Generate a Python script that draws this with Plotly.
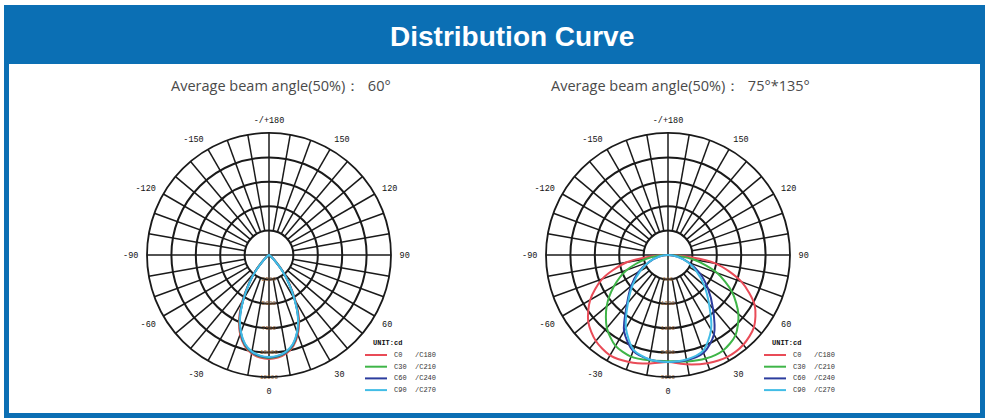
import plotly.graph_objects as go

# ---------------- data ----------------
angles = [0, 10, 20, 30, 40, 50, 60, 70, 80, 90]
angles_left_chart = [0, 5, 10, 15, 20, 25, 30, 35, 40, 45, 50, 55, 60, 65, 70, 80, 90]

# Left chart (narrow beam, 60 deg) intensities in cd, same for both half-planes
left_c0 = [10650, 10550, 10250, 9650, 8650, 7250, 5450, 3700, 2250, 1050, 400, 120, 30, 0, 0, 0, 0]
left_c30 = [10550, 10450, 10150, 9550, 8500, 7100, 5300, 3600, 2200, 1000, 380, 110, 30, 0, 0, 0, 0]
left_c60 = [10500, 10400, 10100, 9500, 8450, 7050, 5250, 3550, 2150, 980, 370, 100, 25, 0, 0, 0, 0]
left_c90 = [10450, 10350, 10050, 9450, 8400, 7000, 5200, 3500, 2100, 950, 350, 100, 20, 0, 0, 0, 0]
left_rings = [2500, 5000, 7500, 10000, 12500]

# Right chart (wide beam, 75x135 deg) intensities in cd: (right half-plane, left half-plane)
right_c0 = [2630, 2730, 2830, 2900, 2880, 2760, 2460, 1920, 1180, 0]
right_c180 = [2630, 2710, 2800, 2850, 2760, 2560, 2210, 1720, 1030, 0]
right_c30 = [2610, 2660, 2710, 2710, 2580, 2260, 1820, 1280, 640, 0]
right_c210 = [2610, 2630, 2660, 2580, 2340, 1970, 1530, 1080, 540, 0]
right_c60 = [2630, 2630, 2560, 2260, 1720, 1280, 910, 540, 250, 0]
right_c240 = [2630, 2610, 2510, 2160, 1570, 1180, 840, 490, 220, 0]
right_c90 = [2630, 2610, 2510, 2120, 1570, 1160, 810, 520, 220, 0]
right_c270 = [2630, 2610, 2480, 2070, 1530, 1130, 790, 490, 220, 0]
right_rings = [600, 1200, 1800, 2400, 3000]

tick_vals = [0, 30, 60, 90, 120, 150, 180, 210, 240, 270, 300, 330]
tick_text = ["0", "30", "60", "90", "120", "150", "-/+180", "-150", "-120", "-90", "-60", "-30"]

series_names = ["C0   /C180", "C30  /C210", "C60  /C240", "C90  /C270"]
colors = ["#e94b57", "#3fb548", "#2c3d9e", "#42bde6"]

header_title = "Distribution Curve"
subtitles = ["Average beam angle(50%)\uff1a  60\u00b0", "Average beam angle(50%)\uff1a  75\u00b0*135\u00b0"]

BLUE = "#0b6fb4"
W, H = 993, 419

fig = go.Figure()


def mirror(ang, right_vals, left_vals):
    th = [-a for a in reversed(ang)] + ang[1:]
    r = list(reversed(left_vals)) + right_vals[1:]
    return th, r


def add_chart(sub, rings, curves):
    # spokes every 10 deg from first ring to outer ring
    sr, st = [], []
    for a in range(0, 360, 10):
        if a % 90 == 0:
            sr += [0, rings[-1], None]
        else:
            sr += [rings[0], rings[-1], None]
        st += [a, a, None]
    fig.add_trace(go.Scatterpolar(r=sr, theta=st, mode="lines", subplot=sub,
                                  line=dict(color="#1a1a1a", width=1.5),
                                  hoverinfo="skip", showlegend=False))
    for (th, r), col in zip(curves, colors):
        fig.add_trace(go.Scatterpolar(r=r, theta=th, mode="lines", subplot=sub,
                                      line=dict(color=col, width=2, shape="spline", smoothing=0.8),
                                      showlegend=False))
    fig.add_trace(go.Scatterpolar(r=rings, theta=[0] * len(rings), mode="text", subplot=sub,
                                  text=[str(v) for v in rings],
                                  textfont=dict(size=6, color="#8a5a30", family="Liberation Mono"),
                                  hoverinfo="skip", showlegend=False))


left_curves = [mirror(angles_left_chart, s, s) for s in (left_c0, left_c30, left_c60, left_c90)]
right_curves = [mirror(angles, a, b) for a, b in ((right_c0, right_c180), (right_c30, right_c210),
                                                   (right_c60, right_c240), (right_c90, right_c270))]
add_chart("polar", left_rings, left_curves)
add_chart("polar2", right_rings, right_curves)


def polar_layout(rings, xd, yd):
    return dict(
        domain=dict(x=xd, y=yd),
        bgcolor="white",
        radialaxis=dict(range=[0, rings[-1]], tickvals=rings, showticklabels=False, ticks="",
                        showline=False, showgrid=True, gridcolor="#1a1a1a", gridwidth=1.5),
        angularaxis=dict(rotation=270, direction="counterclockwise", tickmode="array",
                         tickvals=tick_vals, ticktext=tick_text, ticks="outside", ticklen=6,
                         tickcolor="rgba(0,0,0,0)", showgrid=False,
                         showline=True, linecolor="#1a1a1a", linewidth=1.8,
                         tickfont=dict(size=8.5, color="#111", family="Liberation Mono")),
    )


cx = [269, 668]
cy = 255
R = 122

shapes = [
    dict(type="rect", xref="paper", yref="paper", x0=6.5 / W, x1=982.5 / W, y0=1 - 415.5 / H, y1=1 - 8 / H,
         line=dict(color=BLUE, width=5), fillcolor="white", layer="below"),
    dict(type="rect", xref="paper", yref="paper", x0=4 / W, x1=985 / W, y0=1 - 64 / H, y1=1 - 5 / H,
         line=dict(width=0), fillcolor=BLUE, layer="below"),
]
annotations = [
    dict(text="<b>" + header_title + "</b>", x=512 / W, y=1 - 37 / H, xref="paper", yref="paper",
         showarrow=False, font=dict(size=28, color="white", family="Liberation Sans"),
         xanchor="center", yanchor="middle"),
]
for i, c in enumerate(cx):
    annotations.append(dict(text=subtitles[i], x=(c + 12) / W, y=1 - 85 / H, xref="paper", yref="paper",
                            showarrow=False, font=dict(size=14.5, color="#4a4a4a", family="Open Sans"),
                            xanchor="center", yanchor="middle"))
    lx = c + 96
    annotations.append(dict(text="<b>UNIT:cd</b>", x=(lx + 6) / W, y=1 - 343 / H, xref="paper",
                            yref="paper", showarrow=False, xanchor="left", yanchor="middle",
                            font=dict(size=7, color="#111", family="Liberation Mono")))
    for k, (nm, col) in enumerate(zip(series_names, colors)):
        yy = 355 + k * 11.7
        shapes.append(dict(type="line", xref="paper", yref="paper", x0=lx / W, x1=(lx + 22) / W,
                           y0=1 - yy / H, y1=1 - yy / H, line=dict(color=col, width=2)))
        annotations.append(dict(text=nm, x=(lx + 27) / W, y=1 - yy / H, xref="paper", yref="paper",
                                showarrow=False, xanchor="left", yanchor="middle",
                                font=dict(size=7, color="#333", family="Liberation Mono")))

fig.update_layout(
    width=W, height=H,
    margin=dict(l=0, r=0, t=0, b=0),
    paper_bgcolor="white",
    plot_bgcolor="white",
    showlegend=False,
    polar=polar_layout(left_rings, [(cx[0] - R) / W, (cx[0] + R) / W], [1 - (cy + R) / H, 1 - (cy - R) / H]),
    polar2=polar_layout(right_rings, [(cx[1] - R) / W, (cx[1] + R) / W], [1 - (cy + R) / H, 1 - (cy - R) / H]),
    shapes=shapes,
    annotations=annotations,
)

fig.write_html("out.html", config={"displayModeBar": False},
               post_script="document.body.style.margin='0';document.body.style.overflow='hidden';")
